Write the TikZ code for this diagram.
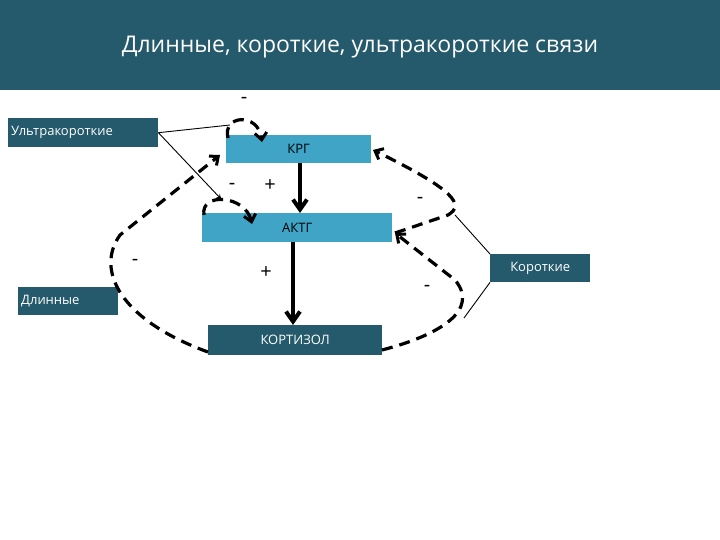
\documentclass[tikz,border=0pt]{standalone}
\usepackage{fontspec}
\setmainfont{Open Sans}
\usetikzlibrary{arrows.meta}
\definecolor{dk}{HTML}{245A6B}
\definecolor{lt}{HTML}{40A4C6}
\begin{document}
\begin{tikzpicture}[x=1pt,y=-1pt,
  dbox/.style={fill=dk,text=white,font=\fontsize{13}{15}\selectfont,inner sep=0pt},
  lbox/.style={fill=lt,text=black,font=\fontsize{13}{15}\selectfont,inner sep=0pt},
  thick arrow/.style={line width=4pt,-{Straight Barb[length=10pt,width=14pt,line width=4pt]}},
  dash arrow/.style={line width=3.2pt,dash pattern=on 11pt off 7pt,-{Straight Barb[length=7pt,width=12pt,line width=3pt]}},
  thin/.style={line width=0.9pt},
  sign/.style={font=\fontsize{20}{22}\selectfont}]
\useasboundingbox (0,0) rectangle (720,540);
\fill[dk] (0,0) rectangle (720,90);
\node[text=white,font=\fontsize{23}{26}\selectfont] (title) at (360,47) {Длинные, короткие, ультракороткие  связи};
\node[dbox,minimum width=150pt,minimum height=29pt,anchor=north west,text width=144pt,align=left] (u) at (8,118) {Ультракороткие};
\node[lbox,minimum width=145pt,minimum height=28pt,anchor=north west] (krg) at (226,135) {КРГ};
\node[lbox,minimum width=190pt,minimum height=29pt,anchor=north west] (aktg) at (202,213) {АКТГ};
\node[dbox,minimum width=100pt,minimum height=28pt,anchor=north west] (k) at (490,254) {Короткие};
\node[dbox,minimum width=100pt,minimum height=28pt,anchor=north west,text width=94pt,align=left] (d) at (18,287) {Длинные};
\node[dbox,minimum width=174pt,minimum height=30pt,anchor=north west] (kort) at (208,325) {КОРТИЗОЛ};
\coordinate (p1) at (300,163); \coordinate (p2) at (300,213);
\coordinate (p3) at (293,242); \coordinate (p4) at (293,325);
\draw[thick arrow] (p1) -- (p2);
\draw[thick arrow] (p3) -- (p4);
% long loop
\coordinate (l1) at (208,352); \coordinate (l2) at (220,155);
\draw[dash arrow] (l1) .. controls (120,320) and (95,270) .. (120,235) -- (l2);
% ultrashort loops
\coordinate (a1) at (228,138); \coordinate (a2) at (262,142);
\draw[dash arrow] (a1) .. controls (222,115) and (258,112) .. (a2);
\coordinate (b1) at (204,215); \coordinate (b2) at (252,224);
\draw[dash arrow] (b1) .. controls (200,192) and (245,195) .. (b2);
% short loops
\coordinate (c1) at (373,150); \coordinate (c2) at (395,233);
\draw[dash arrow] (c2) -- (448,215) .. controls (465,205) and (455,190) .. (c1);
\coordinate (e1) at (382,350);
\draw[dash arrow] (e1) .. controls (440,335) and (480,310) .. (455,280) -- (c2);
% thin lines
\coordinate (t1) at (230,125); \coordinate (t2) at (222,200);
\coordinate (t3) at (455,215); \coordinate (t4) at (464,318);
\draw[thin] (u.east) -- (t1);
\draw[thin,-{Stealth[length=6pt]}] (u.east) -- (t2);
\draw[thin] (k.north west) -- (t3);
\draw[thin] (k.south west) -- (t4);
% signs
\node[sign] (s1) at (244,100) {-};
\node[sign] (s2) at (232,186) {-};
\node[sign] (s3) at (270,186) {+};
\node[sign] (s4) at (135,262) {-};
\node[sign] (s5) at (266,273) {+};
\node[sign] (s6) at (420,200) {-};
\node[sign] (s7) at (427,288) {-};
\end{tikzpicture}
\end{document}
